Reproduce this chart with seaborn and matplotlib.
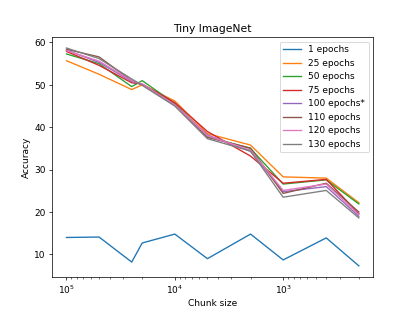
import matplotlib
matplotlib.use('Agg')
import matplotlib.pyplot as plt
import seaborn as sns

# Chunk sizes (x axis, log scale, shown reversed)
chunk_sizes = [100000, 50000, 25000, 20000, 10000, 5000, 2000, 1000, 400, 200]

# Accuracy per number of epochs
acc_1 = [14.0, 14.1, 8.2, 12.7, 14.8, 9.0, 14.8, 8.7, 13.9, 7.3]
acc_25 = [55.7, 52.5, 48.9, 50.0, 46.2, 38.5, 35.8, 28.3, 28.0, 22.2]
acc_50 = [57.3, 55.0, 49.6, 51.0, 45.6, 37.8, 35.0, 26.6, 27.6, 21.9]
acc_75 = [57.9, 54.6, 50.5, 50.2, 45.8, 39.0, 33.2, 26.8, 27.7, 19.6]
acc_100 = [58.2, 55.3, 50.8, 50.1, 45.2, 38.2, 34.3, 24.8, 26.0, 19.0]
acc_110 = [58.4, 56.6, 51.0, 50.0, 45.4, 37.6, 35.1, 24.4, 26.8, 20.0]
acc_120 = [58.1, 55.6, 51.0, 50.2, 45.3, 38.0, 34.6, 25.1, 26.6, 19.4]
acc_130 = [58.7, 56.2, 51.4, 49.9, 45.0, 37.3, 34.4, 23.5, 25.1, 18.6]

labels = ['1 epochs', '25 epochs', '50 epochs', '75 epochs',
          '100 epochs*', '110 epochs', '120 epochs', '130 epochs']
series = [acc_1, acc_25, acc_50, acc_75, acc_100, acc_110, acc_120, acc_130]

fig, ax = plt.subplots(figsize=(6.4, 4.8), dpi=64.84)
colors = sns.color_palette('tab10', len(series))

# Draw one line per epoch setting
for values, label, color in zip(series, labels, colors):
    sns.lineplot(x=chunk_sizes, y=values, label=label, color=color, ax=ax)

ax.set_xscale('log')
ax.invert_xaxis()
ax.set_title('Tiny ImageNet')
ax.set_xlabel('Chunk size')
ax.set_ylabel('Accuracy')
ax.legend(loc='upper right')

plt.savefig('out.png', dpi=64.84)
plt.close()
